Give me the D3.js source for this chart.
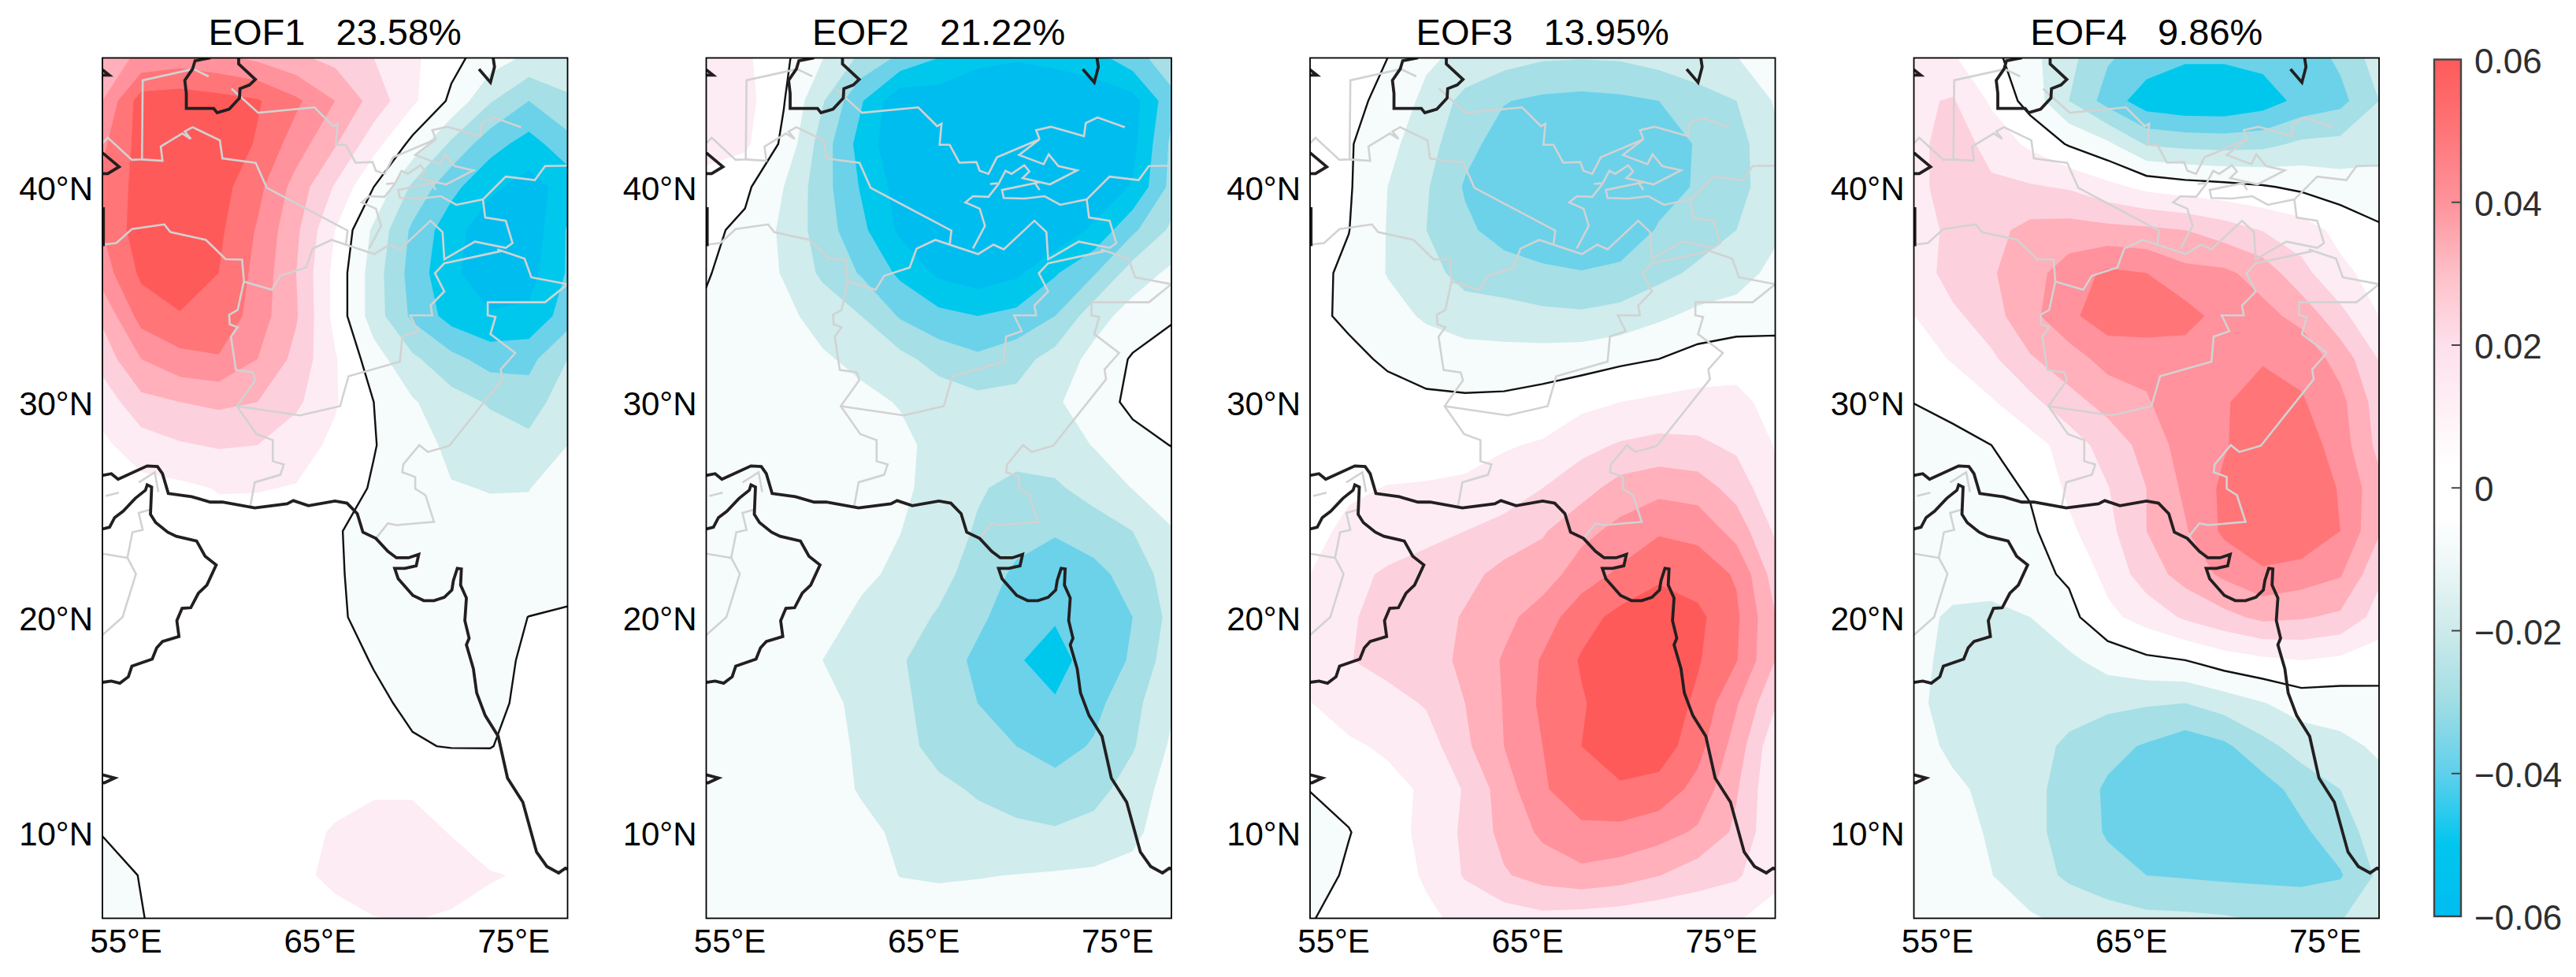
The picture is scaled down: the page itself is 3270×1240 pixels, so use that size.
<!DOCTYPE html>
<html>
<head>
<meta charset="utf-8">
<title>EOF patterns</title>
<script src="https://d3js.org/d3.v7.min.js"></script>
<style>
  html, body { margin: 0; padding: 0; background: #fff; }
  text { font-family: "Liberation Sans", Arial, sans-serif; fill: #000; }
  .title { font-size: 47px; white-space: pre; text-anchor: middle; }
  .tick text { font-size: 42px; }
  .cbar text { font-size: 44px; fill: #2e2e2e; }
</style>
</head>
<body>
<div id="chart"></div>
<script>
/* global d3 */

// grid nodes: 2 degree spacing
const lons = [54, 56, 58, 60, 62, 64, 66, 68, 70, 72, 74, 76, 78];
const lats = [46, 44, 42, 40, 38, 36, 34, 32, 30, 28, 26, 24, 22, 20, 18, 16, 14, 12, 10, 8, 6];

const lonTicks = [55, 65, 75];
const latTicks = [40, 30, 20, 10];
const cbarTicks = [0.06, 0.04, 0.02, 0, -0.02, -0.04, -0.06];

const titles = ['EOF1   23.58%', 'EOF2   21.22%', 'EOF3   13.95%', 'EOF4   9.86%'];

// rows run north to south, columns west to east
const eof1 = [
  [.035,.042,.045,.042,.038,.032,.027,.02,.012,.003,-.005,-.012,-.016],
  [.04,.065,.066,.064,.061,.052,.04,.026,.012,-.002,-.019,-.03,-.021],
  [.048,.064,.068,.067,.059,.045,.031,.014,-.003,-.022,-.036,-.044,-.034],
  [.052,.064,.069,.064,.053,.036,.019,0,-.022,-.037,-.048,-.054,-.046],
  [.05,.066,.07,.062,.049,.032,.01,-.012,-.032,-.046,-.056,-.057,-.039],
  [.045,.062,.068,.06,.047,.03,.007,-.015,-.034,-.048,-.056,-.054,-.039],
  [.032,.054,.059,.058,.045,.031,.007,-.015,-.032,-.044,-.049,-.048,-.035],
  [.024,.04,.047,.049,.04,.027,.011,-.0055,-.018,-.027,-.034,-.033,-.02],
  [.014,.027,.03,.032,.03,.022,.011,0,-.009,-.016,-.021,-.025,-.014],
  [.008,.015,.019,.021,.02,.014,.008,.0005,-.006,-.012,-.015,-.017,-.01],
  [.004,.007,.008,.0105,.0105,.0095,.005,-.001,-.005,-.0095,-.0103,-.0102,-.0065],
  [.003,.005,.006,.007,.006,.004,.001,-.004,-.006,-.007,-.008,-.008,-.006],
  [.003,.005,.006,.007,.006,.004,.001,-.003,-.005,-.006,-.006,-.005,-.003],
  [.003,.004,.006,.007,.006,.005,.001,-.002,-.004,-.005,-.003,.0001,.001],
  [.003,.004,.005,.006,.006,.005,.002,-.0003,-.0025,-.003,-.002,.001,.002],
  [.003,.004,.005,.006,.006,.005,.003,.001,-.001,-.002,-.001,.001,.002],
  [.002,.004,.005,.006,.006,.005,.004,.002,.0005,-.0003,-.0002,.002,.003],
  [.001,.003,.004,.006,.007,.007,.008,.0095,.0095,.007,.004,.003,.003],
  [.0003,.002,.004,.006,.007,.008,.0106,.0115,.0115,.0098,.006,.004,.003],
  [-.003,.0003,.003,.005,.007,.0085,.0115,.0118,.0125,.0118,.0105,.0093,.006],
  [-.004,-.0003,.003,.005,.006,.006,.008,.0099,.0102,.0095,.008,.006,.005]
];

const eof2 = [
  [.014,.012,.002,-.0095,-.022,-.032,-.04,-.047,-.049,-.047,-.044,-.034,-.024],
  [.015,.014,.0005,-.019,-.039,-.058,-.056,-.059,-.06,-.059,-.057,-.054,-.033],
  [.0135,.012,-.002,-.025,-.044,-.058,-.06,-.06,-.06,-.059,-.057,-.053,-.028],
  [.0065,.002,-.01,-.026,-.041,-.054,-.059,-.061,-.062,-.06,-.058,-.049,-.027],
  [.002,-.002,-.012,-.025,-.0375,-.052,-.057,-.06,-.061,-.058,-.048,-.032,-.018],
  [.001,-.006,-.0105,-.022,-.031,-.042,-.052,-.056,-.052,-.041,-.031,-.015,-.008],
  [-.002,-.005,-.008,-.013,-.02,-.031,-.037,-.04,-.037,-.03,-.014,-.006,-.001],
  [-.003,-.005,-.007,-.009,-.012,-.017,-.024,-.028,-.024,-.016,-.007,.001,.004],
  [-.004,-.005,-.006,-.007,-.008,-.0105,-.014,-.017,-.017,-.0115,-.004,.002,.004],
  [-.004,-.004,-.005,-.006,-.007,-.008,-.0125,-.014,-.016,-.015,-.0095,-.003,.0002],
  [-.004,-.004,-.005,-.005,-.005,-.008,-.0135,-.019,-.0225,-.0215,-.016,-.0097,-.006],
  [-.003,-.003,-.003,-.004,-.006,-.0098,-.015,-.021,-.026,-.029,-.025,-.02,-.0105],
  [-.002,-.002,-.003,-.004,-.008,-.012,-.017,-.024,-.032,-.036,-.033,-.026,-.015],
  [-.002,-.002,-.003,-.006,-.012,-.016,-.021,-.028,-.035,-.039,-.038,-.03,-.017],
  [-.002,-.002,-.003,-.01,-.013,-.019,-.025,-.032,-.039,-.044,-.035,-.029,-.014],
  [-.002,-.002,-.003,-.007,-.0125,-.018,-.024,-.03,-.035,-.039,-.033,-.023,-.0115],
  [-.002,-.002,-.003,-.005,-.012,-.017,-.023,-.026,-.03,-.034,-.029,-.021,-.0085],
  [-.002,-.002,-.002,-.005,-.011,-.015,-.018,-.021,-.024,-.026,-.024,-.015,-.006],
  [-.002,-.002,-.002,-.003,-.007,-.012,-.015,-.017,-.018,-.019,-.016,-.012,-.005],
  [-.002,-.002,-.002,-.003,-.006,-.0102,-.0108,-.0104,-.0098,-.009,-.0085,-.0075,-.004],
  [-.002,-.002,-.002,-.003,-.005,-.006,-.0065,-.006,-.006,-.005,-.004,-.003,-.002]
];

const eof3 = [
  [.005,.003,0,-.008,-.013,-.016,-.019,-.0195,-.019,-.016,-.014,-.0102,-.006],
  [.004,.002,-.002,-.013,-.023,-.0295,-.032,-.033,-.032,-.03,-.024,-.02,-.009],
  [.004,.001,-.007,-.016,-.027,-.034,-.037,-.038,-.038,-.036,-.029,-.024,-.012],
  [.003,.001,-.01,-.019,-.031,-.037,-.039,-.04,-.039,-.034,-.029,-.024,-.013],
  [.002,.0002,-.0105,-.02,-.028,-.034,-.037,-.038,-.037,-.029,-.025,-.02,-.012],
  [.003,-.002,-.0105,-.016,-.024,-.0255,-.028,-.0295,-.0275,-.023,-.018,-.0145,-.007],
  [.002,-.0015,-.0065,-.0113,-.0145,-.016,-.0176,-.0183,-.0165,-.0117,-.0075,-.0055,-.0025],
  [.004,.002,-.0012,-.0045,-.006,-.006,-.0055,-.0045,-.002,0,.004,.006,.003],
  [.005,.004,.003,.002,.0016,.002,.004,.0073,.01,.012,.013,.0127,.0065],
  [.004,.004,.004,.005,.006,.0092,.011,.017,.021,.023,.022,.018,.0095],
  [.002,.008,.0105,.011,.012,.014,.02,.026,.034,.037,.035,.026,.012],
  [.006,.013,.016,.018,.02,.024,.029,.037,.043,.049,.0475,.036,.0185],
  [.01,.018,.021,.023,.027,.033,.035,.045,.052,.0575,.055,.049,.025],
  [.012,.019,.023,.025,.031,.037,.045,.056,.063,.068,.0625,.0517,.0305],
  [.012,.0195,.024,.026,.032,.041,.051,.061,.067,.069,.061,.0505,.03],
  [.0098,.013,.016,.021,.03,.0405,.052,.059,.066,.067,.058,.041,.021],
  [.006,.009,.011,.015,.028,.04,.05,.06,.064,.066,.0535,.0357,.0125],
  [.0003,.004,.008,.011,.021,.035,.049,.055,.059,.056,.0468,.031,.011],
  [-.005,-.0005,.007,.012,.022,.033,.042,.048,.047,.044,.0385,.028,.012],
  [-.006,.002,.006,.011,.021,.029,.034,.037,.0348,.0303,.0245,.0215,.0115],
  [-.0005,.003,.006,.0085,.012,.0147,.017,.0155,.0142,.0122,.0125,.0105,.0078]
];

const eof4 = [
  [.012,.011,.003,-.007,-.017,-.029,-.034,-.0385,-.0385,-.037,-.036,-.028,-.015],
  [.018,.021,.0085,-.004,-.02,-.034,-.046,-.049,-.049,-.045,-.037,-.033,-.02],
  [.016,.026,.016,.008,-.001,-.008,-.021,-.023,-.024,-.023,-.018,-.017,-.011],
  [.016,.026,.022,.021,.019,.013,.0073,.0045,.003,.001,-.002,-.005,-.009],
  [.012,.024,.027,.033,.034,.033,.032,.03,.025,.0195,.015,.007,.002],
  [.013,.025,.029,.036,.045,.052,.05,.043,.042,.036,.023,.0125,.006],
  [.0098,.0175,.026,.037,.048,.055,.057,.054,.046,.043,.037,.023,.01],
  [.004,.011,.018,.029,.035,.044,.043,.045,.046,.049,.047,.036,.0195],
  [.0002,.002,.009,.017,.027,.033,.039,.047,.049,.055,.051,.043,.025],
  [-.006,-.002,0,.006,.014,.025,.033,.045,.049,.057,.056,.045,.027],
  [-.008,-.006,-.003,.001,.012,.0195,.03,.042,.052,.059,.059,.049,.033],
  [-.007,-.006,-.005,-.002,.008,.017,.03,.039,.052,.059,.059,.05,.031],
  [-.005,-.005,-.005,-.003,.0015,.013,.025,.034,.042,.048,.045,.041,.022],
  [-.006,-.012,-.013,-.01,-.003,.0075,.014,.0215,.027,.0325,.031,.028,.016],
  [-.008,-.012,-.016,-.017,-.012,-.006,-.002,0,.005,.008,.01,.008,.0045],
  [-.007,-.015,-.017,-.018,-.017,-.0176,-.019,-.02,-.0155,-.0105,-.0055,-.0054,-.0031],
  [-.006,-.012,-.016,-.017,-.0215,-.027,-.031,-.036,-.032,-.023,-.016,-.0125,-.0085],
  [-.005,-.008,-.0125,-.017,-.024,-.0315,-.037,-.04,-.039,-.0345,-.026,-.02,-.013],
  [-.004,-.0065,-.011,-.017,-.024,-.031,-.038,-.039,-.039,-.038,-.032,-.024,-.0157],
  [-.003,-.005,-.0098,-.015,-.022,-.0265,-.03,-.031,-.032,-.0325,-.033,-.031,-.018],
  [-.002,-.003,-.005,-.009,-.012,-.015,-.0175,-.018,-.019,-.021,-.022,-.0205,-.015]
];

const eofs = [eof1, eof2, eof3, eof4];

// contour levels and the colour of the band starting at each one
const levels = [-.05, -.04, -.03, -.02, -.01, 0, .01, .02, .03, .04, .05, .06];
const bandColors = ['#00bdf0', '#00c8ec', '#6bd2ea', '#a6dfe6', '#d0ecec', '#f6fbfc',
  '#ffffff', '#fdecf4', '#fdd0dd', '#ffb0ba', '#ff929c', '#ff7578', '#ff5a5a'];

// colour bar
const cbarValues = [-.06, -.05, -.04, -.03, -.02, -.01, -.004, .003, .02, .03, .04, .05, .06];
const cbarColors = ['#00bdf0', '#00c6ee', '#5fd0ec', '#a0dde4', '#cdeaea', '#f0f8f8', '#ffffff',
  '#ffffff', '#fde0ec', '#fec0c8', '#fe939b', '#ff7578', '#ff5a5a'];

// coast, [lon, lat]
const coastLines = [
  [[59.57,46],[58.78,45.87],[58.65,45.48],[58.25,44.96],[58.33,44.35],[58.33,43.65],[59.74,43.65],[59.92,43.45],[60.54,43.62],[61.07,44.13],[61.1,44.57],[61.59,44.74],[61.89,45],[61.03,45.72],[61.03,46]],
  [[74.16,46],[74.23,45.58],[74.02,44.86],[73.43,45.48]],
  [[54,45.45],[54.35,45.2],[54,45.2]],
  [[54,41.59],[54.86,40.94],[54.28,40.62],[54,40.62]],
  [[54.05,39.06],[54.05,37.25]],
  [[54,26.59],[54.46,26.67],[54.81,26.41],[56.31,27.03],[56.84,27],[57.1,26.67],[57.4,25.75],[58.6,25.6],[59.57,25.35],[60.19,25.35],[61.86,25.08],[63.53,25.27],[63.85,25.42],[64.63,25.18],[66,25.4],[66.62,25.3],[67.15,24.81],[67.44,23.95],[68.11,23.66],[68.73,23.06],[69.17,22.76],[69.79,22.76],[70.32,22.92],[70.19,22.39],[69.61,22.27],[69.08,22.27],[69.26,21.79],[70.02,21.01],[70.58,20.77],[71.11,20.77],[71.64,20.92],[72.03,21.26],[72.11,21.71],[72.31,22.27],[72.52,22.24],[72.48,21.49],[72.78,20.89],[72.7,19.84],[72.92,19.02],[72.78,18.72],[73.14,17.6],[73.31,16.48],[73.75,15.43],[74.42,14.46],[74.9,12.52],[75.69,11.4],[76.4,9.08],[76.93,8.41],[77.54,8.11],[77.89,8.33],[78,8.3]],
  [[54,24.1],[54.37,24.18],[54.63,24.63],[55.07,24.93],[55.69,25.52],[56.22,25.9],[56.31,26.15],[56.54,26.05],[56.48,24.78],[56.75,24.4],[57.37,23.95],[57.81,23.76],[58.86,23.54],[59.3,22.83],[59.87,22.43],[59.39,21.49],[58.95,21.11],[58.56,20.44],[58.11,20.41],[57.84,19.84],[57.95,19.1],[57.1,18.87],[56.8,18.57],[56.57,18.05],[55.52,17.72],[55.34,17.23],[54.9,16.93],[54.46,17.03],[54,16.97]],
  [[54,12.67],[54.63,12.52],[54.1,12.3],[54,12.3]]
];

// country borders, [lon, lat]
const borderLines = [
  [[59.48,45.14],[58.69,45.48],[56.08,44.96],[56.04,41.28],[55.52,41.26],[54.28,42.29],[54,42.03]],
  [[56.04,41.28],[57.1,41.22],[57.01,41.88],[58.12,42.49],[58.56,42.23],[58.25,42.58],[58.65,42.78],[60.06,42.17],[60.19,41.33],[61.91,41.12],[62.48,39.96],[66.65,37.97],[66.56,37.32]],
  [[60.66,44.57],[62.04,43.45],[64.94,43.7],[65.91,42.83],[66.14,42.94],[66.04,41.96],[66.56,41.96],[67.06,41.13],[67.94,41.16],[68.11,40.75],[68.56,40.61],[69,41.38],[71.2,42.22],[70.14,41.49],[71.41,41.06],[71.67,41.52],[72.17,40.97],[73.14,40.77],[71.73,40.12],[70.32,40.41],[70.67,40.72],[70.41,41.01],[69.75,40.61],[69.44,40.75],[69.08,40.14],[68.56,39.54],[67.76,39.57],[67.37,39.28],[68.11,38.99],[68.38,38.19],[67.76,37.14]],
  [[71.2,42.22],[71.02,42.64],[71.78,42.8],[73.49,42.36],[73.58,42.97],[74.19,43.23],[75.6,42.78]],
  [[68.64,40.14],[69.03,40.17]],
  [[70.93,40.22],[71.2,39.86]],
  [[71.2,40.22],[69.26,39.86],[69.35,39.49],[70.41,39.46],[71.46,39.57],[72.26,39.17],[73.63,39.42],[74.81,40.48],[76.31,40.32],[76.84,40.97],[78,40.99]],
  [[73.63,39.42],[73.75,38.58],[74.81,38.43],[75.16,37.39],[74.81,37.17],[73.22,37.46],[71.64,36.64],[71.55,37.9],[70.93,38.43],[69.35,37.1],[68.82,37.32],[68.03,36.88],[65.82,37.54],[64.85,37.13],[64.5,36.26],[63.18,35.87],[62.74,35.22],[61.28,35.61]],
  [[74.37,37.1],[75.78,36.67],[76.13,35.8],[78,35.48]],
  [[74.63,37.03],[71.64,36.45],[71.16,35.99],[71.64,35.14],[70.93,34.49],[71.02,34.03],[69.88,34.03],[70.28,33.3],[69.47,33.04],[69.35,31.88],[66.7,31.2],[66.26,29.81],[64.19,29.38],[60.94,29.81]],
  [[78,35.48],[76.84,34.64],[73.88,34.64],[73.88,34.03],[74.28,33.96],[74.02,33.16],[75.3,32.28],[74.55,31.52],[74.63,31.06],[71.9,27.97],[70.79,27.68],[70.35,28],[69.52,27.1],[69.47,26.74],[70.14,26.52],[70.14,25.97],[70.67,25.67],[71.11,24.43],[69.17,24.28],[68.73,24.36],[68.11,23.66]],
  [[54,37.32],[54.72,37.39],[55.52,38.04],[57.19,38.26],[57.51,37.9],[59.34,37.54],[60.36,36.64],[61.21,36.62],[61.3,35.61],[60.98,34.28],[60.54,34.06],[60.57,33.62],[60.98,33.48],[60.63,33.04],[60.89,31.49],[61.77,31.38],[61.89,31.01],[60.94,29.81],[61.95,28.51],[62.79,28.23],[62.79,27.25],[63.36,27.1],[63.18,26.62],[61.86,26.27],[61.63,25.15]],
  [[55.87,26.26],[56.7,26.74],[56.89,25.82]],
  [[54.16,25.63],[54.85,25.79]],
  [[56.48,25],[55.87,24.85],[56.08,24.06],[55.55,23.95],[55.29,22.76],[54,22.95]],
  [[55.29,22.76],[55.73,22.01],[55.04,20],[54,19.17]]
];

const width = 3270;
const height = 1240;
const panelLefts = [130, 896.5, 1663, 2429.5];
const panelWidth = 590.5;
const panelTop = 73.5;
const panelHeight = 1092;

const svg = d3.select('#chart')
  .append('svg')
    .attr('width', width)
    .attr('height', height)
    .style('display', 'block');

const lonScale = d3.scaleLinear().domain([54, 78]).range([0, panelWidth]);
const latScale = d3.scaleLinear().domain([46, 6]).range([0, panelHeight]);

// d3.contours puts node i at i + 0.5
const gridPath = d3.geoPath(d3.geoTransform({
  point(x, y) {
    this.stream.point(
      lonScale(lons[0] + (lons[1] - lons[0]) * (x - 0.5)),
      latScale(lats[0] + (lats[1] - lats[0]) * (y - 0.5))
    );
  }
}));

const line = d3.line().x(d => lonScale(d[0])).y(d => latScale(d[1]));

eofs.forEach((grid, k) => {
  const flat = grid.flat();
  const contours = d3.contours().size([lons.length, lats.length]).smooth(true);

  const g = svg.append('g')
    .attr('transform', `translate(${panelLefts[k]}, ${panelTop})`);

  svg.append('clipPath').attr('id', `clip${k}`)
    .append('rect')
      .attr('width', panelWidth)
      .attr('height', panelHeight);

  const map = g.append('g').attr('clip-path', `url(#clip${k})`);

  map.append('rect')
    .attr('width', panelWidth)
    .attr('height', panelHeight)
    .attr('fill', bandColors[0]);

  map.selectAll('path.band')
    .data(contours.thresholds(levels)(flat))
    .enter().append('path')
      .attr('class', 'band')
      .attr('d', gridPath)
      .attr('fill', (d, i) => bandColors[i + 1]);

  map.append('path')
    .datum(contours.thresholds([0])(flat)[0])
    .attr('d', gridPath)
    .attr('fill', 'none')
    .attr('stroke', '#111')
    .attr('stroke-width', 2.4);

  map.selectAll('path.border')
    .data(borderLines)
    .enter().append('path')
      .attr('class', 'border')
      .attr('d', line)
      .attr('fill', 'none')
      .attr('stroke', '#d2d2d2')
      .attr('stroke-width', 2.6);

  map.selectAll('path.coast')
    .data(coastLines)
    .enter().append('path')
      .attr('class', 'coast')
      .attr('d', line)
      .attr('fill', 'none')
      .attr('stroke', '#231f20')
      .attr('stroke-width', 3.8);

  g.append('rect')
    .attr('width', panelWidth)
    .attr('height', panelHeight)
    .attr('fill', 'none')
    .attr('stroke', '#000')
    .attr('stroke-width', 1.8);

  g.append('text')
    .attr('class', 'title')
    .attr('x', panelWidth / 2)
    .attr('y', -17)
    .text(titles[k]);

  g.append('g')
    .attr('transform', `translate(5, ${panelHeight})`)
    .call(d3.axisBottom(lonScale).tickValues(lonTicks).tickSize(0).tickPadding(14)
      .tickFormat(d => d + '°E'))
    .call(a => a.select('.domain').remove());

  g.append('g')
    .attr('transform', 'translate(0, 3)')
    .call(d3.axisLeft(latScale).tickValues(latTicks).tickSize(0).tickPadding(12)
      .tickFormat(d => d + '°N'))
    .call(a => a.select('.domain').remove());
});

// colour bar
const cbarScale = d3.scaleLinear().domain([0.06, -0.06]).range([75.5, 1163]);

const grad = svg.append('defs').append('linearGradient')
  .attr('id', 'cbarGrad')
  .attr('x1', 0).attr('x2', 0).attr('y1', 1).attr('y2', 0);

grad.selectAll('stop')
  .data(cbarValues)
  .enter().append('stop')
    .attr('offset', d => (d + 0.06) / 0.12)
    .attr('stop-color', (d, i) => cbarColors[i]);

const cbar = svg.append('g').attr('class', 'cbar').attr('transform', 'translate(3090, 0)');

cbar.append('rect')
  .attr('y', cbarScale(0.06))
  .attr('width', 34)
  .attr('height', cbarScale(-0.06) - cbarScale(0.06))
  .attr('fill', 'url(#cbarGrad)')
  .attr('stroke', '#444')
  .attr('stroke-width', 2.4);

cbar.selectAll('line')
  .data(cbarTicks.slice(1, -1))
  .enter().append('line')
    .attr('x1', 22).attr('x2', 34)
    .attr('y1', d => cbarScale(d))
    .attr('y2', d => cbarScale(d))
    .attr('stroke', '#444')
    .attr('stroke-width', 2);

cbar.selectAll('text')
  .data(cbarTicks)
  .enter().append('text')
    .attr('x', 51)
    .attr('y', d => cbarScale(d) + 17)
    .text(d => d3.format('~g')(d).replace('-', '−'));
</script>
</body>
</html>
